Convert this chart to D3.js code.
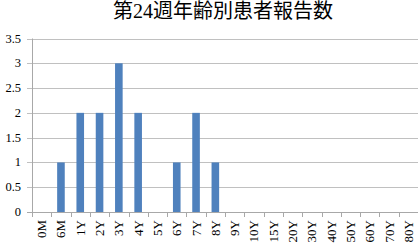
<!DOCTYPE html>
<html>
<head>
<meta charset="utf-8">
<script src="https://cdn.jsdelivr.net/npm/d3@7/dist/d3.min.js"></script>
<style>
  body { margin: 0; background: #fff; }
</style>
</head>
<body>
<div id="chart"></div>
<script>
// chart data
var ageGroups = ["0M","6M","1Y","2Y","3Y","4Y","5Y","6Y","7Y","8Y","9Y","10Y","15Y","20Y","30Y","40Y","50Y","60Y","70Y","80Y"];
var patientCounts = [0,1,2,2,3,2,0,1,2,1,0,0,0,0,0,0,0,0,0,0];
var yTicks = [0,0.5,1,1.5,2,2.5,3,3.5];
var chartTitle = "第24週年齢別患者報告数";

var serif = "'Liberation Serif', 'DejaVu Serif', 'Noto Sans CJK JP', serif";

var W = 419, H = 249;
var svg = d3.select("#chart").append("svg").attr("width", W).attr("height", H)
  .attr("font-family", serif);

var plotLeft = 32, plotRight = 418, plotTop = 38.5, plotBottom = 212;

var x = d3.scaleBand().domain(ageGroups).range([plotLeft, plotRight]);
var band = x.bandwidth();
var y = d3.scaleLinear().domain([0, 3.5]).range([plotBottom, plotTop]);

// gridlines
svg.append("g").selectAll("line").data(yTicks).enter().append("line")
  .attr("x1", plotLeft - 5).attr("x2", plotRight)
  .attr("y1", function(d){ return Math.round(y(d)) + 0.5; })
  .attr("y2", function(d){ return Math.round(y(d)) + 0.5; })
  .attr("stroke", function(d){ return d == 0 ? "#a8a8a8" : "#c0c0c0"; })
  .attr("stroke-width", 1);

// y axis line
svg.append("line").attr("x1", plotLeft + 0.5).attr("x2", plotLeft + 0.5)
  .attr("y1", plotTop).attr("y2", plotBottom + 5).attr("stroke", "#a8a8a8");

// y labels
svg.append("g").selectAll("text").data(yTicks).enter().append("text")
  .attr("x", 21).attr("y", function(d){ return y(d) + 4; })
  .attr("text-anchor", "end").attr("font-size", 12.5)
  .attr("font-family", serif)
  .text(function(d){ return d; });

// x ticks (between categories)
var tickPos = ageGroups.slice(1).map(function(d){ return x(d); });
svg.append("g").selectAll("line").data(tickPos).enter().append("line")
  .attr("x1", function(d){ return Math.round(d) + 0.5; })
  .attr("x2", function(d){ return Math.round(d) + 0.5; })
  .attr("y1", plotBottom).attr("y2", plotBottom + 5).attr("stroke", "#a8a8a8");

// bars
svg.append("g").selectAll("rect").data(patientCounts).enter().append("rect")
  .attr("x", function(d, i){ return x(ageGroups[i]) + band / 2 - 3.8; })
  .attr("width", 7.6)
  .attr("y", function(d){ return y(d); })
  .attr("height", function(d){ return plotBottom - y(d); })
  .attr("fill", "#4f81bd");

// x labels, rotated
svg.append("g").selectAll("text").data(ageGroups).enter().append("text")
  .attr("transform", function(d){
    return "translate(" + (x(d) + band / 2 + 4.5) + "," + 220 + ") rotate(-90)";
  })
  .attr("text-anchor", "end").attr("font-size", 13)
  .attr("font-family", serif)
  .text(function(d){ return d; });

// title
svg.append("text").attr("x", 223).attr("y", 18)
  .attr("text-anchor", "middle").attr("font-size", 20)
  .attr("font-family", serif)
  .text(chartTitle);
</script>
</body>
</html>
